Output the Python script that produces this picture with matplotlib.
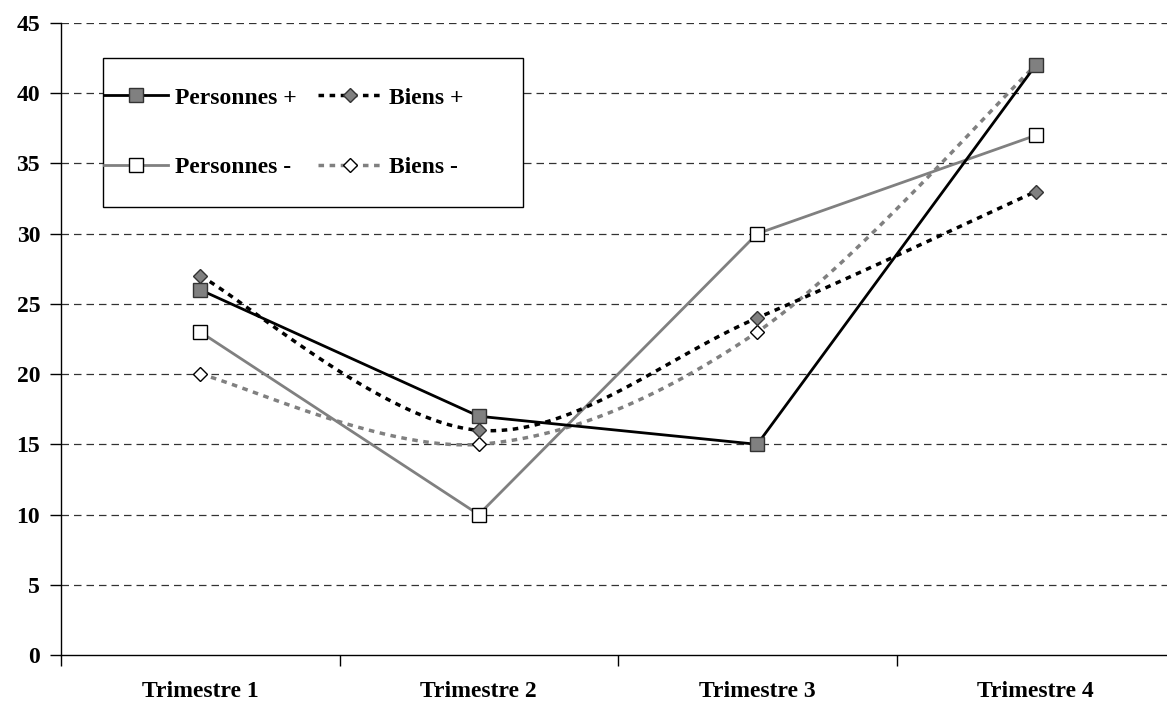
import matplotlib
matplotlib.use("Agg")
import matplotlib.pyplot as plt
from matplotlib.patches import Rectangle
from matplotlib.lines import Line2D
import numpy as np

categories = ["Trimestre 1", "Trimestre 2", "Trimestre 3", "Trimestre 4"]
personnes_plus = [26, 17, 15, 42]
biens_plus = [27, 16, 24, 33]
personnes_moins = [23, 10, 30, 37]
biens_moins = [20, 15, 23, 42]
yticks = [0, 5, 10, 15, 20, 25, 30, 35, 40, 45]

plt.rcParams['font.family'] = ['Liberation Serif', 'DejaVu Serif']
plt.rcParams['font.weight'] = 'bold'

W, H = 1167, 707
fig = plt.figure(figsize=(W / 100, H / 100), dpi=100)
left, right, top, bottom = 61, 1175, 23, 655
ax = fig.add_axes([left / W, 1 - bottom / H, (right - left) / W, (bottom - top) / H])


def smooth(xs, ys, n=40):
    """Excel-like smoothed curve (Catmull-Rom Bezier)."""
    pts = np.column_stack([xs, ys]).astype(float)
    out = []
    for i in range(len(pts) - 1):
        p0 = pts[i - 1] if i > 0 else pts[i]
        p1 = pts[i]
        p2 = pts[i + 1]
        p3 = pts[i + 2] if i + 2 < len(pts) else pts[i + 1]
        c1 = p1 + (p2 - p0) / 6.0
        c2 = p2 - (p3 - p1) / 6.0
        t = np.linspace(0, 1, n)[:, None]
        seg = ((1 - t) ** 3) * p1 + 3 * ((1 - t) ** 2) * t * c1 + 3 * (1 - t) * t ** 2 * c2 + t ** 3 * p2
        out.append(seg if i == 0 else seg[1:])
    out = np.vstack(out)
    return out[:, 0], out[:, 1]


x = np.arange(len(categories))
gray = '#808080'

# grid
for yv in yticks[1:]:
    ax.axhline(yv, color='#333333', lw=0.9, dashes=(6, 4), zorder=0)

# Personnes - (gray solid, white squares)
ax.plot(x, personnes_moins, color=gray, lw=2, zorder=2)
ax.plot(x, personnes_moins, ls='none', marker='s', ms=10, mfc='white', mec='black', mew=1, zorder=5)

# Biens - (gray dotted smooth, white diamonds)
sx, sy = smooth(x, biens_moins)
ax.plot(sx, sy, color=gray, lw=2.5, dashes=(1.6, 1.6), zorder=2)
ax.plot(x, biens_moins, ls='none', marker='D', ms=7, mfc='white', mec='black', mew=1, zorder=5)

# Personnes + (black solid, gray squares)
ax.plot(x, personnes_plus, color='black', lw=2, zorder=3)
ax.plot(x, personnes_plus, ls='none', marker='s', ms=10, mfc=gray, mec='#333333', mew=1, zorder=6)

# Biens + (black dotted smooth, gray diamonds)
sx, sy = smooth(x, biens_plus)
ax.plot(sx, sy, color='black', lw=2.5, dashes=(1.6, 1.6), zorder=3)
ax.plot(x, biens_plus, ls='none', marker='D', ms=7, mfc=gray, mec='#333333', mew=1, zorder=6)

ax.set_xlim(-0.5, len(categories) - 0.5)
ax.set_ylim(0, 45)
ax.set_yticks(yticks)
ax.set_yticklabels([str(v) for v in yticks])
ax.set_xticks(x)
ax.set_xticklabels(categories)
ax.set_xticks([-0.5, 0.5, 1.5, 2.5], minor=True)
ax.tick_params(axis='x', which='major', length=0, pad=19, labelsize=17)
ax.tick_params(axis='x', which='minor', length=8, width=1, direction='out')
ax.tick_params(axis='y', length=8, width=1, direction='out', pad=7, labelsize=17)
for s in ['top', 'right']:
    ax.spines[s].set_visible(False)
for s in ['left', 'bottom']:
    ax.spines[s].set_linewidth(1)

# legend frame
lx0, ly0, lx1, ly1 = 103, 58, 523, 207
fig.patches.append(Rectangle((lx0 / W, 1 - ly1 / H), (lx1 - lx0) / W, (ly1 - ly0) / H,
                             transform=fig.transFigure, fill=True, facecolor='white',
                             edgecolor='black', lw=1, zorder=10))

handles = [
    Line2D([], [], color='black', lw=2, marker='s', ms=10, mfc=gray, mec='#333333'),
    Line2D([], [], color=gray, lw=2, marker='s', ms=10, mfc='white', mec='black'),
    Line2D([], [], color='black', lw=2.5, dashes=(1.6, 1.6), marker='D', ms=7, mfc=gray, mec='#333333'),
    Line2D([], [], color=gray, lw=2.5, dashes=(1.6, 1.6), marker='D', ms=7, mfc='white', mec='black'),
]
labels = ["Personnes +", "Personnes -", "Biens +", "Biens -"]
leg = fig.legend(handles, labels, ncol=2, loc='upper left',
                 bbox_to_anchor=(104 / W, 1 - 87 / H), frameon=False,
                 prop={'family': 'Liberation Serif', 'weight': 'bold', 'size': 17},
                 handlelength=2.7, handletextpad=0.3, columnspacing=0.9,
                 labelspacing=2.05, borderpad=0, borderaxespad=0)
leg.set_zorder(11)

fig.savefig("out.png", dpi=100)
